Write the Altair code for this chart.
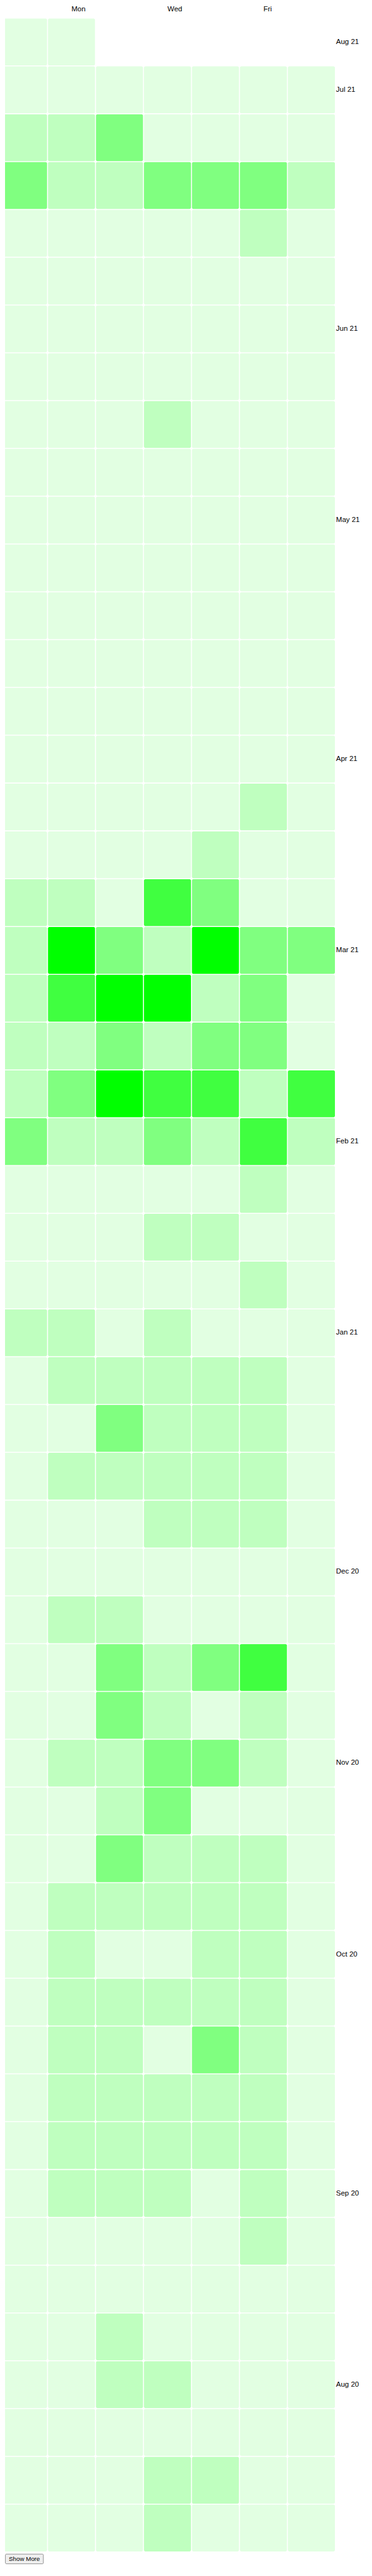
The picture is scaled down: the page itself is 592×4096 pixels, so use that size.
import altair as alt
import pandas as pd

# ---- data ----
day_names = ["Sun", "Mon", "Tue", "Wed", "Thu", "Fri", "Sat"]
day_axis_labels = ["", "Mon", "", "Wed", "", "Fri", ""]

month_labels = ["Aug 21", "Jul 21", "Jun 21", "May 21", "Apr 21", "Mar 21", "Feb 21",
                "Jan 21", "Dec 20", "Nov 20", "Oct 20", "Sep 20", "Aug 20"]
month_label_rows = [0, 1, 6, 10, 15, 19, 23, 27, 32, 36, 40, 45, 49]

level_values = [0, 1, 2, 3, 4]
level_colors = ["#e2ffe2", "#bfffbf", "#80ff80", "#40ff40", "#00ff00"]

N = None
week_levels = [
    [0, 0, N, N, N, N, N],
    [0, 0, 0, 0, 0, 0, 0],
    [1, 1, 2, 0, 0, 0, 0],
    [2, 1, 1, 2, 2, 2, 1],
    [0, 0, 0, 0, 0, 1, 0],
    [0, 0, 0, 0, 0, 0, 0],
    [0, 0, 0, 0, 0, 0, 0],
    [0, 0, 0, 0, 0, 0, 0],
    [0, 0, 0, 1, 0, 0, 0],
    [0, 0, 0, 0, 0, 0, 0],
    [0, 0, 0, 0, 0, 0, 0],
    [0, 0, 0, 0, 0, 0, 0],
    [0, 0, 0, 0, 0, 0, 0],
    [0, 0, 0, 0, 0, 0, 0],
    [0, 0, 0, 0, 0, 0, 0],
    [0, 0, 0, 0, 0, 0, 0],
    [0, 0, 0, 0, 0, 1, 0],
    [0, 0, 0, 0, 1, 0, 0],
    [1, 1, 0, 3, 2, 0, 0],
    [1, 4, 2, 1, 4, 2, 2],
    [1, 3, 4, 4, 1, 2, 0],
    [1, 1, 2, 1, 2, 2, 0],
    [1, 2, 4, 3, 3, 1, 3],
    [2, 1, 1, 2, 1, 3, 1],
    [0, 0, 0, 0, 0, 1, 0],
    [0, 0, 0, 1, 1, 0, 0],
    [0, 0, 0, 0, 0, 1, 0],
    [1, 1, 0, 1, 0, 0, 0],
    [0, 1, 1, 1, 1, 1, 0],
    [0, 0, 2, 1, 1, 1, 0],
    [0, 1, 1, 1, 1, 1, 0],
    [0, 0, 0, 1, 1, 1, 0],
    [0, 0, 0, 0, 0, 0, 0],
    [0, 1, 1, 0, 0, 0, 0],
    [0, 0, 2, 1, 2, 3, 0],
    [0, 0, 2, 1, 0, 1, 0],
    [0, 1, 1, 2, 2, 1, 0],
    [0, 0, 1, 2, 0, 0, 0],
    [0, 0, 2, 1, 1, 1, 0],
    [0, 1, 1, 1, 1, 1, 0],
    [0, 1, 0, 0, 1, 1, 0],
    [0, 1, 1, 1, 1, 1, 0],
    [0, 1, 1, 0, 2, 1, 0],
    [0, 1, 1, 1, 1, 1, 0],
    [0, 1, 1, 1, 1, 1, 0],
    [0, 1, 1, 1, 0, 1, 0],
    [0, 0, 0, 0, 0, 1, 0],
    [0, 0, 0, 0, 0, 0, 0],
    [0, 0, 1, 0, 0, 0, 0],
    [0, 0, 1, 1, 0, 0, 0],
    [0, 0, 0, 0, 0, 0, 0],
    [0, 0, 0, 1, 1, 0, 0],
    [0, 0, 0, 1, 0, 0, 0],
]

button_label = ["Show More"]

# ---- build table ----
n_weeks = len(week_levels)
records = []
for w, levels in enumerate(week_levels):
    for d, lv in enumerate(levels):
        if lv is None:
            continue
        records.append({"week": w, "day": d, "dayName": day_names[d], "level": lv})
df = pd.DataFrame(records)

day_expr = "[" + ",".join("'%s'" % s for s in day_axis_labels) + "][datum.value]"
month_map = dict(zip(month_label_rows, month_labels))
month_expr = "[" + ",".join("'%s'" % month_map.get(i, "") for i in range(n_weeks)) + "][datum.value]"

FONT = "Liberation Sans"
PLOT_W = 533
PLOT_H = 4027.4

cells = alt.Chart(df).mark_rect(cornerRadius=2.2).encode(
    x=alt.X(
        "day:O",
        scale=alt.Scale(domain=list(range(7)), paddingInner=0.02, paddingOuter=0),
        axis=alt.Axis(
            orient="top", title=None, labelExpr=day_expr, bandPosition=0,
            labelAlign="left", labelBaseline="alphabetic", labelPadding=12,
            ticks=False, tickSize=0, domain=False, labelAngle=0,
            labelOverlap=False, labelFontSize=11.5, labelColor="#000000",
            labelFont=FONT, grid=False,
        ),
    ),
    y=alt.Y(
        "week:O",
        scale=alt.Scale(domain=list(range(n_weeks)), paddingInner=0.02, paddingOuter=0),
        axis=alt.Axis(
            orient="right", title=None, labelExpr=month_expr,
            ticks=False, tickSize=0, domain=False, labelPadding=1.3,
            labelAlign="left", labelBaseline="middle", labelOverlap=False,
            labelFontSize=11.5, labelColor="#000000", labelFont=FONT, grid=False,
        ),
    ),
    color=alt.Color(
        "level:O",
        scale=alt.Scale(domain=level_values, range=level_colors),
        legend=None,
    ),
)

btn_df = pd.DataFrame({"label": button_label})
button_box = alt.Chart(btn_df).mark_rect(
    fill="#efefef", stroke="#767676", strokeWidth=0.8, cornerRadius=1.5
).encode(
    x=alt.value(8.6), x2=alt.value(69.0),
    y=alt.value(PLOT_H + 4.2), y2=alt.value(PLOT_H + 19.6),
)
button_text = alt.Chart(btn_df).mark_text(
    fontSize=9.8, font=FONT, color="#000000", align="center", baseline="middle"
).encode(
    text="label:N",
    x=alt.value(38.8), y=alt.value(PLOT_H + 12.0),
)

chart = alt.layer(cells, button_box, button_text).properties(
    width=PLOT_W,
    height=PLOT_H,
    padding={"left": -8, "top": 21.6, "right": 50, "bottom": 21.0},
    autosize=alt.AutoSizeParams(type="none"),
    background="#ffffff",
).configure_view(strokeWidth=0, stroke="transparent")

chart.save("out.html", embed_options={"renderer": "svg", "actions": False})
